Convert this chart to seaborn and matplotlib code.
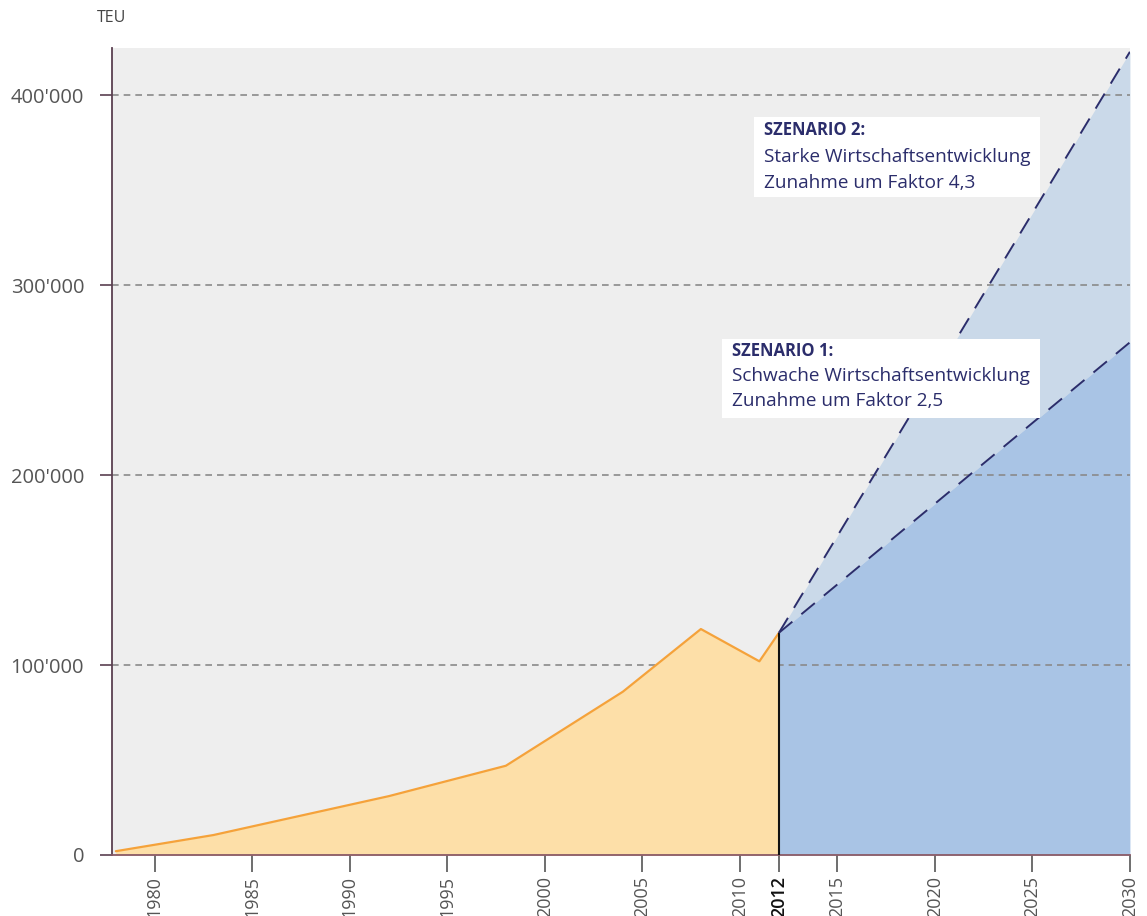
import seaborn as sns
import matplotlib.pyplot as plt
from matplotlib.patches import Rectangle
from matplotlib.ticker import FuncFormatter

sns.set_theme(style="white")
plt.rcParams['font.family'] = ['Open Sans', 'DejaVu Sans']

# Historische Umschlagmenge (TEU)
hist_years = [1978, 1983, 1992, 1998, 2004, 2008, 2011, 2012]
hist_teu = [2000, 10500, 31000, 47000, 86000, 119000, 102000, 117000]

# Szenarien 2012 -> 2030
scen_years = [2012, 2030]
scen1_teu = [117000, 270000]   # Faktor 2,5
scen2_teu = [117000, 423000]   # Faktor 4,3

x_ticks = [1980, 1985, 1990, 1995, 2000, 2005, 2010, 2012, 2015, 2020, 2025, 2030]
y_ticks = [0, 100000, 200000, 300000, 400000]

navy = "#2b2d6b"
orange_line = "#f5a23a"
orange_fill = "#fddfa8"
blue1 = "#a9c4e5"
blue2 = "#cad9e9"

fig = plt.figure(figsize=(11.47, 9.16), dpi=100)
ax = fig.add_axes([0.0976, 0.0666, 0.8875, 0.881])
ax.set_facecolor("#eeeeee")

# Szenario-Flächen (unter dem Raster)
ax.fill_between(scen_years, scen1_teu, scen2_teu, color=blue2, lw=0, zorder=1)
ax.fill_between(scen_years, 0, scen1_teu, color=blue1, lw=0, zorder=1)

# Raster
for v in y_ticks[1:]:
    ax.axhline(v, color="#8a8a8a", lw=1.2, ls=(0, (4, 3)), zorder=1.5)

# Historische Fläche
ax.fill_between(hist_years, 0, hist_teu, color=orange_fill, lw=0, zorder=2)
sns.lineplot(x=hist_years, y=hist_teu, color=orange_line, lw=1.6, ax=ax, zorder=3)
ax.vlines(hist_years[-1], 0, hist_teu[-1], color="#111111", lw=1.5, zorder=4)

# Szenario-Linien
sns.lineplot(x=scen_years, y=scen1_teu, color=navy, lw=1.4, ax=ax, zorder=4)
sns.lineplot(x=scen_years, y=scen2_teu, color=navy, lw=1.4, ax=ax, zorder=4)
for line in ax.lines[-2:]:
    line.set_dashes((9, 6))

ax.set_xlim(1977.8, 2030)
ax.set_ylim(0, 425000)
ax.set_xticks(x_ticks)
ax.set_yticks(y_ticks)
ax.yaxis.set_major_formatter(FuncFormatter(lambda v, p: f"{v:,.0f}".replace(",", "'")))
ax.tick_params(axis="x", labelrotation=90, length=12, width=1.2, color="#555555",
               labelsize=13, labelcolor="#555555", pad=3, bottom=True)
ax.tick_params(axis="y", length=9, width=1.2, color="#5a4050",
               labelsize=14.5, labelcolor="#555555", pad=11, left=True)
for lab in ax.get_xticklabels():
    if lab.get_text() == "2012":
        lab.set_color("#111111")
        lab.set_fontweight("semibold")
ax.set_xlabel("")
ax.set_ylabel("")

for s in ["top", "right"]:
    ax.spines[s].set_visible(False)
ax.spines["left"].set_color("#5a4050")
ax.spines["left"].set_linewidth(1.3)
ax.spines["bottom"].set_color("#8a5a66")
ax.spines["bottom"].set_linewidth(1.3)

# Beschriftungskästen
ax.add_patch(Rectangle((0.631, 0.815), 0.281, 0.099, transform=ax.transAxes,
                       facecolor="white", edgecolor="none", zorder=5))
ax.add_patch(Rectangle((0.599, 0.541), 0.313, 0.098, transform=ax.transAxes,
                       facecolor="white", edgecolor="none", zorder=5))

ax.text(0.641, 0.898, "SZENARIO 2:", transform=ax.transAxes, color=navy,
        fontsize=12, fontweight="bold", va="center", zorder=6)
ax.text(0.641, 0.865, "Starke Wirtschaftsentwicklung", transform=ax.transAxes,
        color=navy, fontsize=13.7, va="center", zorder=6)
ax.text(0.641, 0.833, "Zunahme um Faktor 4,3", transform=ax.transAxes,
        color=navy, fontsize=13.7, va="center", zorder=6)

ax.text(0.609, 0.6245, "SZENARIO 1:", transform=ax.transAxes, color=navy,
        fontsize=12, fontweight="bold", va="center", zorder=6)
ax.text(0.609, 0.5936, "Schwache Wirtschaftsentwicklung", transform=ax.transAxes,
        color=navy, fontsize=13.7, va="center", zorder=6)
ax.text(0.609, 0.5626, "Zunahme um Faktor 2,5", transform=ax.transAxes,
        color=navy, fontsize=13.7, va="center", zorder=6)

fig.text(97 / 1147, 1 - 18 / 916, "TEU", color="#444444", fontsize=11.5, va="center")

fig.savefig("out.png", dpi=100, facecolor="white")
